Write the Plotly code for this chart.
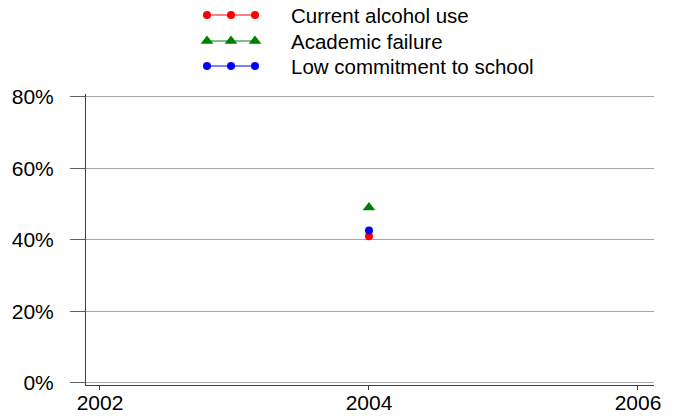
import plotly.graph_objects as go

years = [2004]
current_alcohol_use = [0.410]
academic_failure = [0.490]
low_commitment = [0.426]

series_names = ["Current alcohol use", "Academic failure", "Low commitment to school"]
series_values = [current_alcohol_use, academic_failure, low_commitment]
colors = ["#ff0000", "#008000", "#0000ff"]
symbols = ["circle", "triangle-up", "circle"]
sizes = [8, 11, 8]

x_ticks = [2002, 2004, 2006]
y_ticks = [0, 0.2, 0.4, 0.6, 0.8]
y_tick_labels = ["0%", "20%", "40%", "60%", "80%"]

FONT = "Liberation Sans, Arial, sans-serif"
W, H = 674, 416
ML, MR, MT, MB = 86, 20, 0, 31
plot_h = H - MT - MB
main_top_px = 94
main_dom_top = (H - MB - main_top_px) / plot_h

fig = go.Figure()

for name, vals, c, s, sz in zip(series_names, series_values, colors, symbols, sizes):
    fig.add_trace(go.Scatter(
        x=years, y=vals, mode="lines+markers", name=name,
        line=dict(color=c, width=1),
        marker=dict(color=c, symbol=s, size=sz),
        showlegend=False, cliponaxis=False,
    ))

# custom legend (three markers per entry) on an auxiliary pixel-mapped axis
legend_rows_y = [15, 41, 66]
legend_marker_x = [207, 231, 255]
legend_line_x = [203, 258]
for name, c, s, sz, ry in zip(series_names, colors, symbols, sizes, legend_rows_y):
    fig.add_trace(go.Scatter(
        x=legend_line_x, y=[ry, ry], mode="lines", line=dict(color=c, width=1),
        xaxis="x2", yaxis="y2", showlegend=False, hoverinfo="skip",
    ))
    fig.add_trace(go.Scatter(
        x=legend_marker_x, y=[ry] * 3, mode="markers",
        marker=dict(color=c, symbol=s, size=sz),
        xaxis="x2", yaxis="y2", showlegend=False, hoverinfo="skip", cliponaxis=False,
    ))
    fig.add_annotation(
        x=289, y=ry, xref="x2", yref="y2", text=name, showarrow=False,
        xanchor="left", yanchor="middle", font=dict(family=FONT, size=20.5, color="black"),
    )

fig.update_layout(
    width=W, height=H,
    margin=dict(l=ML, r=MR, t=MT, b=MB, autoexpand=False),
    paper_bgcolor="white", plot_bgcolor="white",
    showlegend=False,
    font=dict(family=FONT, size=21, color="black"),
    xaxis=dict(
        range=[2001.896, 2006.119], tickvals=x_ticks, ticktext=[str(v) for v in x_ticks],
        ticks="outside", ticklen=4, tickcolor="#404040", tickwidth=1,
        showline=True, linecolor="#404040", linewidth=1,
        showgrid=False, zeroline=False, anchor="y", automargin=False,
        ticklabelstandoff=-5,
        tickfont=dict(family=FONT, size=21, color="black"),
    ),
    yaxis=dict(
        domain=[0, main_dom_top],
        range=[-0.0064, 0.8076], tickvals=y_ticks, ticktext=y_tick_labels,
        ticks="outside", ticklen=15, tickcolor="#606060", tickwidth=1,
        showline=True, linecolor="#404040", linewidth=1,
        showgrid=True, gridcolor="#a6a6a6", gridwidth=1, zeroline=False,
        ticklabelstandoff=12, automargin=False,
        tickfont=dict(family=FONT, size=21, color="black"),
    ),
    xaxis2=dict(domain=[0, 1], range=[ML, W - MR], visible=False, anchor="y2",
                fixedrange=True, automargin=False),
    yaxis2=dict(domain=[main_dom_top, 1], range=[main_top_px, 0], visible=False, anchor="x2",
                fixedrange=True, automargin=False),
)

fig.write_html(
    "out.html",
    config={"displayModeBar": False},
    post_script="document.body.style.margin='0';document.body.style.padding='0';",
)
